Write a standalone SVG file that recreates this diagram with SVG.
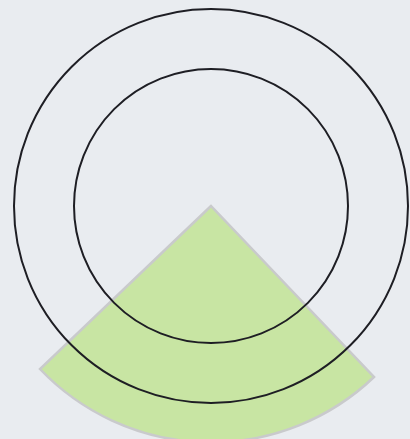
<svg xmlns="http://www.w3.org/2000/svg" width="410" height="439" viewBox="0 0 410 439">
<style>
.ring{fill:none;stroke:#1e1e24;stroke-width:2}
.sector{fill:#c8e5a3;stroke:#c9cacc;stroke-width:2.5;stroke-linejoin:miter}
</style>
<rect width="410" height="439" fill="#e9ecf0"/>
<g id="sector"><path class="sector" d="M211 206 L40 369 A236 236 0 0 0 374 377 Z"/></g>
<g id="outer-ring"><circle class="ring" cx="211" cy="206" r="197"/></g>
<g id="inner-ring"><circle class="ring" cx="211" cy="206" r="137"/></g>
</svg>
